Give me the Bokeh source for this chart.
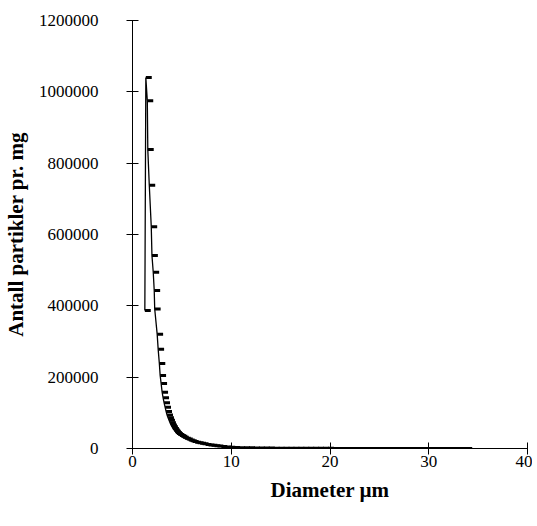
from bokeh.plotting import figure
from bokeh.models import FixedTicker, Range1d, ColumnDataSource, CustomJSTickFormatter
from bokeh.embed import file_html
from bokeh.resources import INLINE

# Data
diameter_um = [1.25, 1.35, 1.5, 1.55, 1.7, 1.9, 1.97, 2.1, 2.2, 2.25,
               2.5, 2.6, 2.72, 2.8, 2.9, 3.0, 3.1, 3.2, 3.3, 3.4,
               3.5, 3.6, 3.7, 3.8, 3.9, 4.0, 4.1, 4.2, 4.3, 4.4,
               4.5, 4.65, 4.8, 4.95, 5.1, 5.3, 5.5, 5.7, 5.9, 6.1,
               6.35, 6.6, 6.85, 7.1, 7.4, 7.7, 8.0, 8.3, 8.6, 9.0,
               9.4, 9.8, 10.3, 10.8, 11.3, 11.8, 12.3, 12.8, 13.3, 13.8,
               14.3, 14.8, 15.3, 15.8, 16.3, 16.8, 17.3, 17.8, 18.3, 18.8,
               19.3, 19.8, 20.3, 20.8, 21.3, 21.8, 22.3, 22.8, 23.3, 23.8,
               24.3, 24.8, 25.3, 25.8, 26.3, 26.8, 27.3, 27.8, 28.3, 28.8,
               29.3, 29.8, 30.3, 30.8, 31.3, 31.8, 32.3, 32.8, 33.3, 33.8]
particles_per_mg = [387000, 1040000, 975000, 838000, 738000, 622000, 541000, 494000, 443000, 391000,
                    320000, 278000, 238000, 205000, 182000, 158000, 142000, 128000, 116000, 104000,
                    94000, 86000, 79000, 72000, 66000, 61000, 56000, 52000, 48500, 45000,
                    42000, 39000, 36500, 34000, 31500, 29000, 26500, 24000, 21500, 19500,
                    17500, 16000, 14500, 13000, 11500, 10000, 9000, 8000, 7000, 5500,
                    4500, 3500, 2800, 2400, 2100, 1800, 1600, 1400, 1250, 1100,
                    1000, 900, 820, 750, 680, 620, 570, 520, 480, 440,
                    400, 370, 340, 310, 290, 270, 250, 230, 210, 195,
                    180, 165, 150, 140, 130, 120, 110, 100, 95, 90,
                    85, 80, 75, 70, 65, 60, 55, 50, 45, 40]

x_ticks = [0, 10, 20, 30, 40]
y_ticks = [0, 200000, 400000, 600000, 800000, 1000000, 1200000]

x_title = "Diameter µm"
y_title = "Antall partikler pr. mg"

FONT = "Liberation Serif"
DASH_LEN = 0.6  # cap length in data units

src = ColumnDataSource(dict(
    x=diameter_um,
    x1=[v + DASH_LEN for v in diameter_um],
    y=particles_per_mg,
))

p = figure(width=532, height=518, output_backend="svg", toolbar_location=None,
           x_range=Range1d(0, 40), y_range=Range1d(0, 1200000),
           min_border_left=131, min_border_right=5, min_border_top=20, min_border_bottom=70)

p.line("x", "y", source=src, line_color="black", line_width=1.3)
p.segment(x0="x", y0="y", x1="x1", y1="y", source=src, line_color="black", line_width=3)

p.outline_line_color = None
p.xgrid.grid_line_color = None
p.ygrid.grid_line_color = None
p.background_fill_color = "white"
p.border_fill_color = "white"

for ax in (p.xaxis[0], p.yaxis[0]):
    ax.axis_line_color = "black"
    ax.axis_line_width = 1
    ax.major_tick_line_color = "black"
    ax.minor_tick_line_color = None
    ax.major_tick_in = 6
    ax.major_tick_out = 6
    ax.major_label_text_font = FONT
    ax.major_label_text_font_size = "17px"
    ax.major_label_text_color = "black"
    ax.axis_label_text_font = FONT
    ax.axis_label_text_font_size = "21px"
    ax.axis_label_text_font_style = "bold"
    ax.axis_label_text_color = "black"

p.xaxis.ticker = FixedTicker(ticks=x_ticks)
p.yaxis.ticker = FixedTicker(ticks=y_ticks)
p.yaxis.formatter = CustomJSTickFormatter(code="return tick.toFixed(0);")
p.xaxis.formatter = CustomJSTickFormatter(code="return tick.toFixed(0);")
p.xaxis.axis_label = x_title
p.yaxis.axis_label = y_title
p.yaxis.major_label_standoff = 28
p.xaxis.major_label_standoff = 1
p.yaxis.axis_label_standoff = 8
p.xaxis.axis_label_standoff = 8

open("out.html", "w").write(file_html(p, INLINE))
